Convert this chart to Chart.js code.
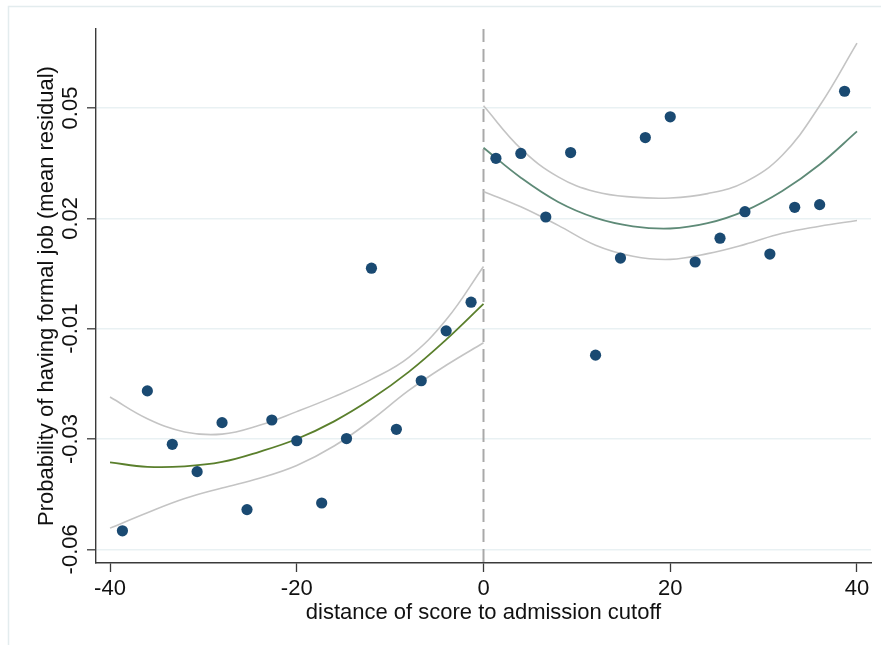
<!DOCTYPE html>
<html>
<head>
<meta charset="utf-8">
<title>Formal job probability around the admission cutoff</title>
<script src="https://cdn.jsdelivr.net/npm/chart.js@4.4.1/dist/chart.umd.min.js"></script>
<style>
  html, body { margin: 0; padding: 0; background: #ffffff; }
  canvas { display: block; }
</style>
</head>
<body>
<canvas id="rdplot" width="881" height="645"></canvas>
<script>
// Binned means of the residualised outcome, left and right of the cutoff
const binXLeft  = [-38.67, -36, -33.33, -30.67, -28, -25.33, -22.67, -20, -17.33, -14.67, -12, -9.33, -6.67, -4, -1.33];
const binYLeft  = [-0.0508, -0.0191, -0.0312, -0.0374, -0.0263, -0.0460, -0.0257, -0.0304, -0.0445, -0.0299, 0.0087, -0.0278, -0.0168, -0.0055, 0.0010];
const binXRight = [1.33, 4, 6.67, 9.33, 12, 14.67, 17.33, 20, 22.67, 25.33, 28, 30.67, 33.33, 36, 38.67];
const binYRight = [0.0336, 0.0347, 0.0203, 0.0349, -0.0110, 0.0110, 0.0383, 0.0430, 0.0101, 0.0155, 0.0215, 0.0119, 0.0225, 0.0231, 0.0488];

// Fitted curve and 95% confidence band on each side
const gridLeft    = [-40, -36, -32, -28, -24, -20, -16, -12, -8, -4, 0];
const fitLeft     = [-0.0353, -0.0363, -0.0362, -0.0352, -0.0329, -0.0300, -0.0260, -0.0209, -0.0148, -0.0075, 0.0006];
const ciHighLeft  = [-0.0205, -0.0254, -0.0284, -0.0289, -0.0269, -0.0238, -0.0204, -0.0165, -0.0115, -0.0030, 0.0091];
const ciLowLeft   = [-0.0502, -0.0467, -0.0435, -0.0411, -0.0389, -0.0360, -0.0316, -0.0257, -0.0190, -0.0133, -0.0082];

const gridRight   = [0, 4, 8, 12, 16, 20, 24, 28, 32, 36, 40];
const fitRight    = [0.0360, 0.0292, 0.0237, 0.0201, 0.0182, 0.0177, 0.0189, 0.0217, 0.0262, 0.0322, 0.0397];
const ciHighRight = [0.0455, 0.0358, 0.0294, 0.0260, 0.0248, 0.0246, 0.0256, 0.0282, 0.0343, 0.0455, 0.0597];
const ciLowRight  = [0.0261, 0.0226, 0.0184, 0.0139, 0.0114, 0.0107, 0.0120, 0.0141, 0.0166, 0.0182, 0.0195];

// Axes
const xTicks = [-40, -20, 0, 20, 40];
const xRange = [-41.5, 41.5];
const yTickValues = [-0.055, -0.03, -0.005, 0.02, 0.045];
const yTickLabels = ['-0.06', '-0.03', '-0.01', '0.02', '0.05'];
const yRange = [-0.0581, 0.0629];
const cutoff = 0;

const FONT = "'Liberation Sans', Arial, sans-serif";
const pts = (xs, ys) => xs.map((x, i) => ({ x: x, y: ys[i] }));

const curve = (xs, ys, color, width) => ({
  type: 'line',
  data: pts(xs, ys),
  borderColor: color,
  borderWidth: width,
  pointRadius: 0,
  fill: false,
  tension: 0.4,
  showLine: true
});

// Light outer frame of the graph region
const framePlugin = {
  id: 'frame',
  beforeDraw(chart) {
    const ctx = chart.ctx;
    ctx.save();
    ctx.fillStyle = '#ffffff';
    ctx.fillRect(0, 0, chart.width, chart.height);
    ctx.strokeStyle = '#e3ecee';
    ctx.lineWidth = 1.5;
    ctx.strokeRect(8.5, 6.5, chart.width + 20, chart.height + 20);
    ctx.restore();
  }
};

// Dashed vertical line at the admission cutoff
const cutoffPlugin = {
  id: 'cutoffLine',
  beforeDatasetsDraw(chart) {
    const { ctx, chartArea, scales } = chart;
    const x = scales.x.getPixelForValue(cutoff);
    ctx.save();
    ctx.strokeStyle = '#a9a9a9';
    ctx.lineWidth = 2;
    ctx.setLineDash([13, 7]);
    ctx.beginPath();
    ctx.moveTo(x, chartArea.top);
    ctx.lineTo(x, chartArea.bottom);
    ctx.stroke();
    ctx.restore();
  }
};

new Chart(document.getElementById('rdplot'), {
  type: 'scatter',
  data: {
    datasets: [
      {
        data: pts(binXLeft, binYLeft).concat(pts(binXRight, binYRight)),
        backgroundColor: '#1a4a72',
        borderWidth: 0,
        pointRadius: 5.6,
        showLine: false
      },
      curve(gridLeft, fitLeft, '#5a7f2c', 1.8),
      curve(gridRight, fitRight, '#5e8a77', 1.8),
      curve(gridLeft, ciHighLeft, '#c4c4c4', 1.6),
      curve(gridLeft, ciLowLeft, '#c4c4c4', 1.6),
      curve(gridRight, ciHighRight, '#c4c4c4', 1.6),
      curve(gridRight, ciLowRight, '#c4c4c4', 1.6)
    ]
  },
  options: {
    responsive: false,
    animation: false,
    devicePixelRatio: 1,
    events: [],
    layout: { padding: { top: 29, right: 10, left: 0, bottom: 0 } },
    plugins: { legend: { display: false }, tooltip: { enabled: false } },
    scales: {
      x: {
        type: 'linear',
        min: xRange[0],
        max: xRange[1],
        afterBuildTicks(scale) { scale.ticks = xTicks.map(v => ({ value: v })); },
        afterFit(scale) { scale.height = 82; },
        grid: { display: true, drawOnChartArea: false, drawTicks: true, tickLength: 9, tickColor: '#3a3a3a', tickWidth: 1.3 },
        border: { display: true, color: '#3a3a3a', width: 1.4 },
        ticks: {
          autoSkip: false,
          maxRotation: 0,
          padding: 4,
          color: '#111111',
          font: { family: FONT, size: 22 },
          callback: (v) => String(v)
        },
        title: {
          display: true,
          text: 'distance of score to admission cutoff',
          color: '#111111',
          font: { family: FONT, size: 22 },
          padding: { top: 0, bottom: 19 }
        }
      },
      y: {
        type: 'linear',
        min: yRange[0],
        max: yRange[1],
        afterBuildTicks(scale) { scale.ticks = yTickValues.map(v => ({ value: v })); },
        afterFit(scale) { scale.width = 96; },
        grid: { display: true, drawOnChartArea: true, color: '#e9f1f3', lineWidth: 1.6, drawTicks: true, tickLength: 9, tickColor: '#3a3a3a', tickWidth: 1.3 },
        border: { display: true, color: '#3a3a3a', width: 1.4 },
        ticks: {
          autoSkip: false,
          minRotation: 90,
          maxRotation: 90,
          crossAlign: 'center',
          padding: -9,
          color: '#111111',
          font: { family: FONT, size: 22 },
          callback: (v, i) => yTickLabels[i]
        },
        title: {
          display: true,
          text: 'Probability of having formal job (mean residual)',
          color: '#111111',
          font: { family: FONT, size: 22 },
          padding: { top: 34, bottom: 0 }
        }
      }
    }
  },
  plugins: [framePlugin, cutoffPlugin]
});
</script>
</body>
</html>
